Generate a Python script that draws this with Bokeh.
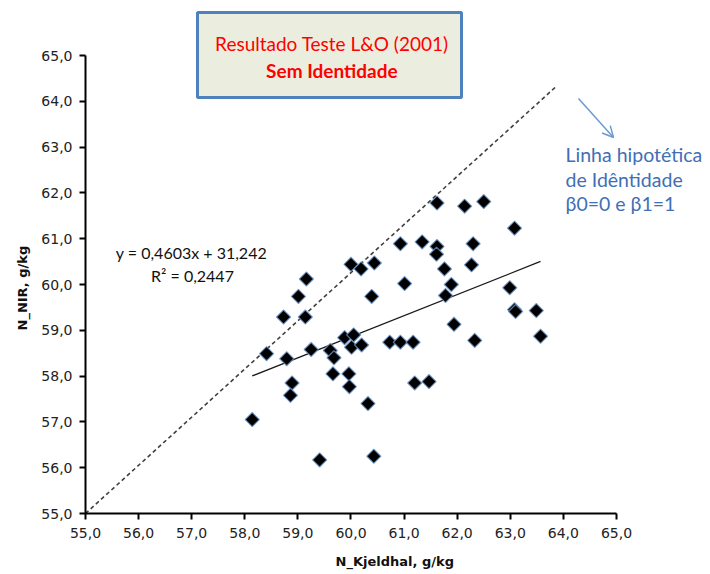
import numpy as np
from bokeh.plotting import figure
from bokeh.models import (Range1d, FixedTicker, CustomJSTickFormatter, BoxAnnotation,
                          Label, Arrow, OpenHead, Title)
from bokeh.embed import file_html
from bokeh.resources import INLINE

# ---- data ----
n_kjeldhal = [58.14, 58.41, 58.73, 58.79, 58.89, 58.86, 59.01, 59.16, 59.14, 59.25,
              59.41, 59.61, 59.68, 59.66, 59.88, 59.96, 59.97, 60.00, 60.05, 60.01,
              60.19, 60.20, 60.44, 60.39, 60.32, 60.43, 60.73, 60.93, 61.17, 60.93,
              61.01, 61.20, 61.47, 61.34, 61.62, 61.62, 61.61, 61.76, 61.89, 61.78,
              61.94, 62.14, 62.30, 62.27, 62.33, 62.50, 62.99, 63.08, 63.08, 63.10,
              63.49, 63.57]
n_nir = [57.05, 58.49, 59.29, 58.38, 57.85, 57.58, 59.74, 60.12, 59.29, 58.58,
         56.17, 58.56, 58.40, 58.05, 58.84, 58.05, 57.77, 60.44, 58.90, 58.63,
         60.34, 58.68, 60.47, 59.74, 57.40, 56.25, 58.74, 58.74, 58.74, 60.89,
         60.02, 57.85, 57.88, 60.93, 61.78, 60.83, 60.66, 60.34, 60.00, 59.76,
         59.13, 61.71, 60.89, 60.43, 58.78, 61.81, 59.93, 61.23, 59.45, 59.41,
         59.43, 58.87]
fit_slope = 0.4603
fit_intercept = 31.242
identity_x = [55.0, 63.88]
identity_y = [55.0, 64.34]
x_ticks = [55, 56, 57, 58, 59, 60, 61, 62, 63, 64, 65]
y_ticks = [55, 56, 57, 58, 59, 60, 61, 62, 63, 64, 65]

title_line1 = "Resultado Teste L&O (2001)"
title_line2 = "Sem Identidade"
eq_text = "y = 0,4603x + 31,242"
r2_text = "R² = 0,2447"
note_lines = ["Linha hipotética", "de Idêntidade", "β0=0  e β1=1"]

# ---- figure ----
p = figure(width=708, height=574, output_backend="svg", toolbar_location=None,
           x_range=Range1d(55, 66.733), y_range=Range1d(55, 65.983),
           min_border_left=85, min_border_right=0, min_border_top=10, min_border_bottom=61)
p.outline_line_color = None
p.grid.visible = False
p.background_fill_color = "white"

for ax, ticks in ((p.xaxis, x_ticks), (p.yaxis, y_ticks)):
    ax.ticker = FixedTicker(ticks=ticks)
    ax.formatter = CustomJSTickFormatter(code="return tick.toFixed(1).replace('.', ',');")
    ax.bounds = (55, 65)
    ax.axis_line_color = "black"
    ax.axis_line_width = 2
    ax.major_tick_line_color = "black"
    ax.major_tick_line_width = 2
    ax.major_tick_out = 6
    ax.major_tick_in = 0
    ax.minor_tick_line_color = None
    ax.major_label_text_font = "DejaVu Sans"
    ax.major_label_text_font_size = "14px"
    ax.major_label_text_color = "#222222"

p.xaxis.major_label_standoff = 8
p.yaxis.major_label_standoff = 7
p.xaxis.axis_label = "N_Kjeldhal,  g/kg"
p.xaxis.axis_label_text_font = "DejaVu Sans"
p.xaxis.axis_label_text_font_style = "bold"
p.xaxis.axis_label_text_font_size = "13px"
p.xaxis.axis_label_text_color = "#111111"
p.xaxis.axis_label_standoff = 13

# y-axis label as a side title, centred on the 55-65 span of the axis
ytitle = Title(text="N_NIR,  g/kg", align="left", offset=183, standoff=18,
               text_font="DejaVu Sans", text_font_style="bold", text_font_size="13px",
               text_color="#111111")
p.add_layout(ytitle, "left")

# identity line (dashed)
p.line(identity_x, identity_y, line_color="#404040", line_width=1.6, line_dash="4 3")

# regression line over the data range
fx = np.array([min(n_kjeldhal), max(n_kjeldhal)])
p.line(fx, fit_slope * fx + fit_intercept, line_color="#1a1a1a", line_width=1.3)

# points
p.scatter(n_kjeldhal, n_nir, marker="square", angle=np.pi / 4, size=10,
          fill_color="black", line_color="#6A93C6", line_width=1.2, line_alpha=0.8)

# title box
box = BoxAnnotation(left=57.109, right=62.081, bottom=64.083, top=65.939,
                    fill_color="#EBEEDF", fill_alpha=1.0,
                    line_color="#4F81BD", line_width=3, line_alpha=1.0)
p.add_layout(box)
p.add_layout(Label(x=59.64, y=65.262, text=title_line1, text_align="center",
                   text_baseline="middle", text_font="Lato", text_font_size="19px",
                   text_color="#FF0000"))
p.add_layout(Label(x=59.64, y=64.672, text=title_line2, text_align="center",
                   text_baseline="middle", text_font="Lato", text_font_style="bold",
                   text_font_size="19px", text_color="#FF0000"))

# equation
p.add_layout(Label(x=56.996, y=60.699, text=eq_text, text_align="center",
                   text_baseline="middle", text_font="Lato", text_font_size="16px",
                   text_color="#111111"))
p.add_layout(Label(x=57.015, y=60.197, text=r2_text, text_align="center",
                   text_baseline="middle", text_font="Lato", text_font_size="16px",
                   text_color="#111111"))

# note and arrow
for txt, yy in zip(note_lines, [62.838, 62.293, 61.769]):
    p.add_layout(Label(x=64.04, y=yy, text=txt, text_align="left",
                       text_baseline="middle", text_font="Lato", text_font_size="19.5px",
                       text_color="#3F6FB5"))
p.add_layout(Arrow(end=OpenHead(size=11, line_color="#6E9AD0", line_width=1.5),
                   x_start=64.284, y_start=64.061, x_end=64.944, y_end=63.21,
                   line_color="#6E9AD0", line_width=1.5))

open("out.html", "w").write(file_html(p, INLINE))
